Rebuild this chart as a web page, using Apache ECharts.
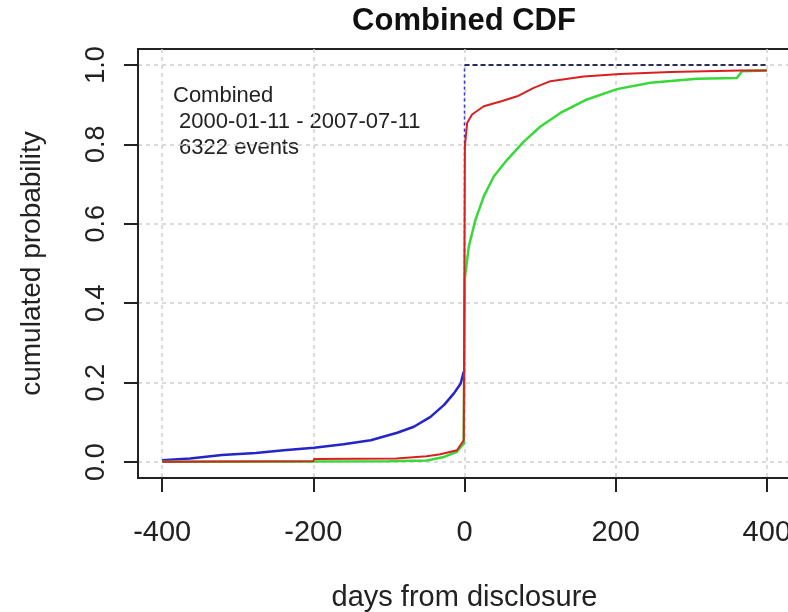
<!DOCTYPE html>
<html>
<head>
<meta charset="utf-8">
<script src="https://cdn.jsdelivr.net/npm/echarts@6/dist/echarts.min.js"></script>
<style>html,body{margin:0;padding:0;background:#fff}#c{width:788px;height:612px}</style>
</head>
<body>
<div id="c"></div>
<script>
var xTicks = [-400, -200, 0, 200, 400];
var yTicks = [0, 0.2, 0.4, 0.6, 0.8, 1.0];

var blueX = [-400, -363, -321, -276, -239, -199, -160, -124, -89, -67, -45, -27, -14, -5, -1];
var blueY = [0.005, 0.009, 0.018, 0.023, 0.030, 0.036, 0.045, 0.055, 0.074, 0.089, 0.114, 0.144, 0.173, 0.198, 0.228];

var blueAfterX = [0, 0];
var blueAfterY = [0.228, 1.0];
var topX = [0, 400];
var topY = [1.0, 1.0];

var redX = [-400, -200, -199, -90, -89, -50, -32, -10, -1, 0, 0.5, 3.5, 10, 25.5, 47.6, 69.7, 91.6, 113.7, 157.7, 206, 272, 365, 400];
var redY = [0.001, 0.002, 0.008, 0.009, 0.013, 0.015, 0.020, 0.030, 0.055, 0.060, 0.795, 0.854, 0.875, 0.896, 0.908, 0.921, 0.942, 0.959, 0.971, 0.977, 0.982, 0.986, 0.986];

var greenX = [-400, -100, -50, -27, -10, -1, 0, 0.5, 5.7, 14.5, 25.5, 38.7, 56.4, 78.4, 100.5, 126.9, 162, 201.8, 245.9, 307.6, 360.5, 367, 400];
var greenY = [0.001, 0.002, 0.004, 0.013, 0.026, 0.047, 0.050, 0.463, 0.543, 0.610, 0.669, 0.719, 0.761, 0.807, 0.845, 0.879, 0.913, 0.939, 0.955, 0.965, 0.967, 0.984, 0.986];

var noteLines = ['Combined', ' 2000-01-11 - 2007-07-11', ' 6322 events'];

function pairs(xs, ys) { return xs.map(function (x, i) { return [x, ys[i]]; }); }

var chart = echarts.init(document.getElementById('c'), null, {renderer: 'canvas'});
chart.setOption({
  animation: false,
  backgroundColor: '#fff',
  title: {
    text: 'Combined CDF', left: 464, textAlign: 'center', top: 6, padding: 0,
    textStyle: {fontFamily: 'Liberation Sans', fontWeight: 'bold', fontSize: 31, color: '#111'}
  },
  grid: {
    left: 138, top: 49, width: 653, height: 429, show: true,
    borderColor: '#222', borderWidth: 2, backgroundColor: 'transparent',
    outerBoundsMode: 'none', containLabel: false
  },
  xAxis: {
    type: 'value', min: -432, max: 432,
    name: 'days from disclosure', nameLocation: 'middle', nameGap: 105,
    nameTextStyle: {fontFamily: 'Liberation Sans', fontSize: 29, color: '#222'},
    axisLine: {show: true, onZero: false, lineStyle: {color: '#222', width: 2}},
    axisTick: {show: true, inside: false, length: 14, customValues: xTicks, lineStyle: {color: '#222', width: 2}},
    axisLabel: {customValues: xTicks, margin: 40, fontFamily: 'Liberation Sans', fontSize: 29, color: '#222'},
    splitLine: {show: true, lineStyle: {color: '#cfcfcf', type: [4, 4], width: 1.5}}
  },
  yAxis: {
    type: 'value', min: -0.04, max: 1.04,
    name: 'cumulated probability', nameLocation: 'middle', nameGap: 92, nameRotate: 90,
    nameTextStyle: {fontFamily: 'Liberation Sans', fontSize: 28, color: '#222'},
    axisLine: {show: true, onZero: false, lineStyle: {color: '#222', width: 2}},
    axisTick: {show: true, inside: false, length: 14, customValues: yTicks, lineStyle: {color: '#222', width: 2}},
    axisLabel: {customValues: yTicks, rotate: 90, margin: 28, fontFamily: 'Liberation Sans', fontSize: 27, color: '#222',
      formatter: function (v) { return v.toFixed(1); }},
    splitLine: {show: true, lineStyle: {color: '#cfcfcf', type: [4, 4], width: 1.5}}
  },
  graphic: [{
    type: 'text', left: 173, top: 83,
    style: {text: noteLines.join('\n'), fontFamily: 'Liberation Sans', fontSize: 22, lineHeight: 26, fill: '#222'}
  }],
  series: [
    {type: 'line', data: pairs(blueAfterX, blueAfterY), symbol: 'none', clip: false,
      lineStyle: {color: '#3838d0', width: 1.5, type: [3, 3]}},
    {type: 'line', data: pairs(topX, topY), symbol: 'none', clip: false,
      lineStyle: {color: '#2c2c5c', width: 2, type: [5, 3]}},
    {type: 'line', data: pairs(blueX, blueY), symbol: 'none',
      lineStyle: {color: '#2424c8', width: 2.5}},
    {type: 'line', data: pairs(greenX, greenY), symbol: 'none',
      lineStyle: {color: '#38d838', width: 2.5}},
    {type: 'line', data: pairs(redX, redY), symbol: 'none',
      lineStyle: {color: '#d82020', width: 2}}
  ]
});
</script>
</body>
</html>
